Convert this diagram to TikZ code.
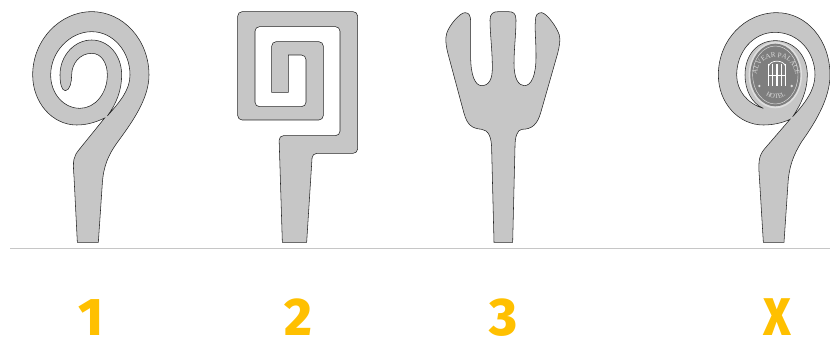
\documentclass[tikz,border=0pt]{standalone}
\usepackage{fontspec}
\setmainfont{Fira Sans}[BoldFont=Fira Sans ExtraBold]
\newfontfamily\sealfont{Liberation Serif}
\usetikzlibrary{decorations.text}
\definecolor{signgray}{HTML}{C6C6C6}
\definecolor{sealgray}{HTML}{7E7E7E}
\definecolor{seallight}{HTML}{DEDEDE}
\definecolor{labyellow}{HTML}{FFC000}
\tikzset{
  sign/.style={draw=black!85, line width=.55pt, fill=signgray, even odd rule},
  lab/.style={anchor=base, text=labyellow, font=\fontsize{53}{53}\selectfont\bfseries, inner sep=0pt},
  sealline/.style={draw=seallight, line width=.45pt}}
\begin{document}
\begin{tikzpicture}[x=1pt, y=-1pt]
\useasboundingbox (0,0) rectangle (830,337);
\coordinate (baseL) at (10,248);
\coordinate (baseR) at (830,248);
\draw[signgray, line width=1pt] (baseL) -- (baseR);
\begin{scope}[xshift=20, scale=1/3]
\path[sign] (172,727) -- (162,530) .. controls (158,480) and (160,470) .. (178,448)
  -- (254,354) .. controls (225,368) and (198,375) .. (170,375)
  .. controls (97,375) and (38,308) .. (38,225) .. controls (38,120) and (120,35) .. (215,35)
  .. controls (310,35) and (387,120) .. (387,225) .. controls (387,300) and (330,375) .. (290,430)
  .. controls (265,465) and (250,500) .. (247,550) -- (235,727) -- cycle
  (215,95) .. controls (280,95) and (330,155) .. (330,225) .. controls (330,270) and (300,305) .. (262,348)
  .. controls (290,310) and (305,270) .. (305,225) .. controls (305,165) and (265,120) .. (215,120)
  .. controls (165,120) and (120,165) .. (120,225) .. controls (120,250) and (125,272) .. (136,272)
  .. controls (150,272) and (155,245) .. (155,225) .. controls (155,190) and (180,160) .. (215,160)
  .. controls (245,160) and (262,190) .. (262,225) .. controls (262,280) and (225,325) .. (180,325)
  .. controls (130,325) and (92,280) .. (92,225) .. controls (92,155) and (150,95) .. (215,95) -- cycle;
\end{scope}
\begin{scope}[xshift=225, scale=1/3]
\path[sign] (172,727) [rounded corners=4.5pt] -- (162,407) -- (345,407) -- (345,80) -- (90,80) -- (90,320)
  -- (243,320) -- (243,165) [sharp corners] -- (190,165) -- (190,277) -- (140,277)
  [rounded corners=4.5pt] -- (140,125) -- (295,125) -- (295,360) -- (38,360) -- (38,35) -- (398,35)
  -- (398,460) -- (262,460) [sharp corners] -- (245,727) -- cycle;
\end{scope}
\begin{scope}[xshift=430, scale=1/3]
\path[sign] (192,727) -- (185,450) .. controls (185,410) and (175,390) .. (155,388)
  .. controls (125,385) and (112,375) .. (102,340) -- (55,165) .. controls (48,140) and (45,115) .. (50,100)
  .. controls (58,75) and (90,38) .. (105,38) .. controls (118,38) and (122,48) .. (122,65)
  -- (122,170) .. controls (122,225) and (135,257) .. (155,257) .. controls (178,257) and (187,235) .. (187,205)
  .. controls (187,150) and (180,100) .. (180,60) .. controls (180,40) and (190,35) .. (205,35) -- (235,35)
  .. controls (250,35) and (258,40) .. (258,60) .. controls (258,100) and (252,150) .. (252,190)
  .. controls (252,235) and (265,257) .. (283,257) .. controls (305,257) and (318,225) .. (318,170)
  .. controls (318,120) and (314,90) .. (316,65) .. controls (316,45) and (322,38) .. (335,38)
  .. controls (350,40) and (380,80) .. (388,105) .. controls (392,120) and (388,140) .. (383,160)
  -- (333,335) .. controls (322,375) and (305,388) .. (275,388) .. controls (262,390) and (255,410) .. (255,440)
  -- (248,727) -- cycle;
\end{scope}
\begin{scope}[xshift=700, scale=1/3]
\path[sign] (190,727) -- (178,530) .. controls (174,480) and (178,465) .. (195,445)
  -- (270,358) .. controls (245,370) and (215,375) .. (190,375)
  .. controls (115,375) and (55,308) .. (55,225) .. controls (55,120) and (135,38) .. (230,38)
  .. controls (320,38) and (390,120) .. (390,225) .. controls (390,300) and (340,375) .. (305,425)
  .. controls (280,465) and (267,500) .. (264,550) -- (252,727) -- cycle
  (225,97) .. controls (295,97) and (345,155) .. (345,225) .. controls (345,270) and (315,310) .. (278,350)
  .. controls (305,310) and (322,270) .. (322,225) .. controls (322,165) and (280,122) .. (226,122)
  .. controls (172,122) and (135,165) .. (135,225) .. controls (135,270) and (155,310) .. (190,325)
  .. controls (140,310) and (110,270) .. (110,225) .. controls (110,155) and (160,97) .. (225,97) -- cycle;
\fill[seallight] (226,225) ellipse [x radius=80, y radius=100];
\fill[sealgray] (226,225) ellipse [x radius=75, y radius=94];
\draw[sealline] (226,225) ellipse [x radius=68, y radius=87];
\foreach \barx in {-26,-13,0,13,26}
  \draw[white, line width=1.1pt] (231+\barx,192) -- (231+\barx,258);
\draw[white, line width=.9pt] (205,226) -- (257,226);
\draw[white, line width=.7pt] (205,200) .. controls (210,178) and (252,178) .. (257,200);
\fill[seallight] (178,258) circle [radius=4] (275,258) circle [radius=4];
\path[decorate, decoration={text along path, text align=center,
    text={|\sealfont\fontsize{7}{7}\selectfont\color{seallight}|ALVEAR PALACE}}]
  (170,245) .. controls (165,195) and (195,172) .. (228,172) .. controls (261,172) and (291,195) .. (286,245);
\path[decorate, decoration={text along path, text align=center,
    text={|\sealfont\fontsize{6.5}{6.5}\selectfont\color{seallight}|HOTEL}}]
  (188,275) .. controls (205,302) and (250,302) .. (267,275);
\end{scope}
\node[lab] (labA) at (91.5,335) {1};
\node[lab] (labB) at (298,335) {2};
\node[lab] (labC) at (503,335) {3};
\node[lab, xscale=.88] (labX) at (777.5,335) {X};
\end{tikzpicture}
\end{document}
